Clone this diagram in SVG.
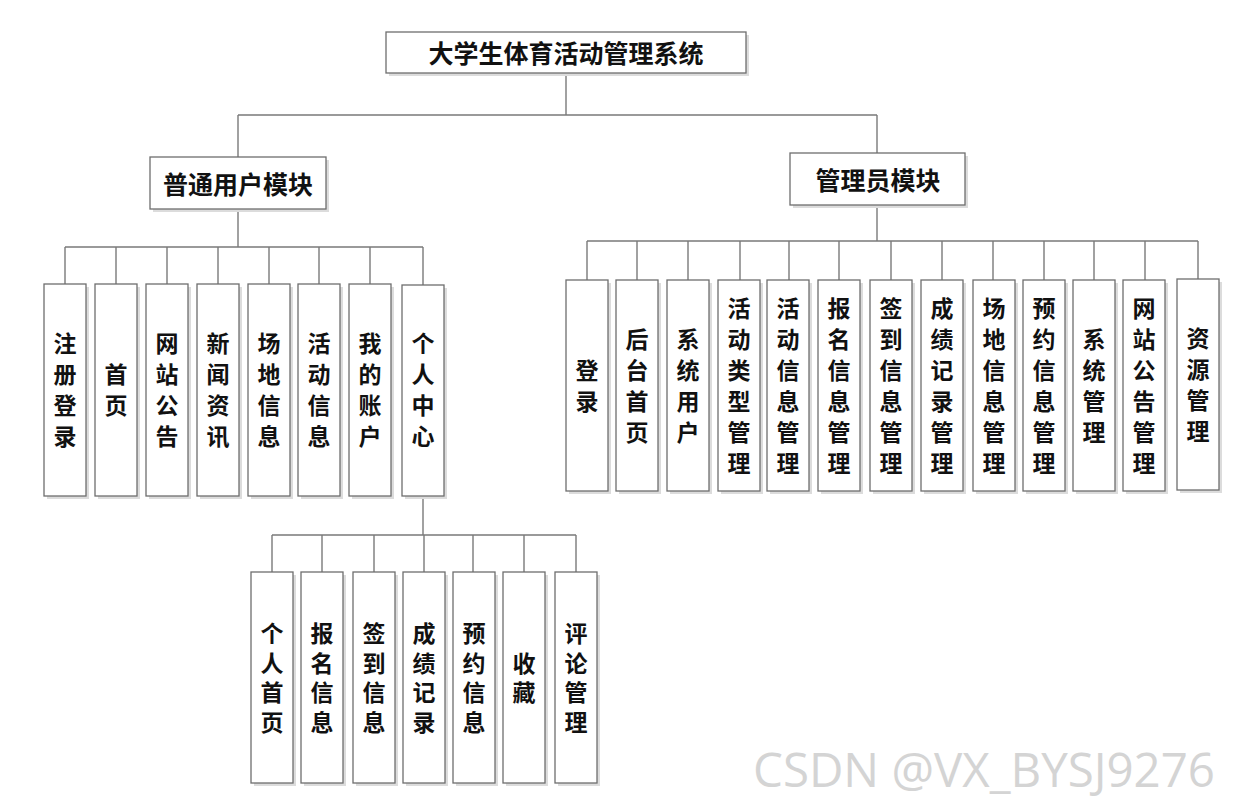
<svg xmlns="http://www.w3.org/2000/svg" width="1233" height="802" viewBox="0 0 1233 802">
<style>
.bg{fill:#ffffff}
.sh{fill:#dcdcdc}
.box{fill:#ffffff;stroke:#6e6e6e;stroke-width:1.3}
.ln{fill:none;stroke:#7a7a7a;stroke-width:1.4}
.t{font-family:"Noto Sans CJK SC","Noto Sans CJK JP",sans-serif;font-weight:bold;fill:#111111;text-anchor:middle;dominant-baseline:central}
.big{font-size:25px}
.leaf{font-size:23px;writing-mode:vertical-rl;letter-spacing:8px}
.low{letter-spacing:6.5px}
.wm{font-family:"Open Sans","Noto Sans",sans-serif;font-size:48px;fill:#d4d4d4}
</style>
<rect class="bg" x="0" y="0" width="1233" height="802"/>

<g id="connectors">
<path class="ln" d="M566 73V115M238 115H877M238 115V157M877 115V153"/>
<path class="ln" d="M238 209V247M65 247H423M65 247V284M116 247V284M167 247V284M218 247V284M269 247V284M319 247V284M370 247V284M423 247V285"/>
<path class="ln" d="M423 496V535M272 535H576M272 535V572M322 535V572M374 535V572M424 535V572M473 535V572M524 535V572M576 535V572"/>
<path class="ln" d="M877 205V241M587 241H1198M587 241V280M637 241V280M688 241V280M740 241V280M789 241V280M839 241V280M891 241V280M942 241V280M993 241V280M1044 241V280M1094 241V280M1145 241V280M1198 241V280"/>
</g>

<g id="root"><rect class="sh" x="389" y="35" width="360" height="41"/><rect class="box" x="386" y="32" width="360" height="41"/><text class="t big" x="566" y="52">大学生体育活动管理系统</text></g>
<g id="user"><rect class="sh" x="153" y="160" width="176" height="52"/><rect class="box" x="150" y="157" width="176" height="52"/><text class="t big" x="238" y="183">普通用户模块</text></g>
<g id="admin"><rect class="sh" x="793" y="156" width="175" height="52"/><rect class="box" x="790" y="153" width="175" height="52"/><text class="t big" x="878" y="179">管理员模块</text></g>

<g id="u1"><rect class="sh" x="47" y="287" width="42" height="212"/><rect class="box" x="44" y="284" width="42" height="212"/><text class="t leaf" x="65" y="394">注册登录</text></g>
<g id="u2"><rect class="sh" x="98" y="287" width="42" height="212"/><rect class="box" x="95" y="284" width="42" height="212"/><text class="t leaf" x="116" y="394">首页</text></g>
<g id="u3"><rect class="sh" x="149" y="287" width="42" height="212"/><rect class="box" x="146" y="284" width="42" height="212"/><text class="t leaf" x="167" y="394">网站公告</text></g>
<g id="u4"><rect class="sh" x="200" y="287" width="42" height="212"/><rect class="box" x="197" y="284" width="42" height="212"/><text class="t leaf" x="218" y="394">新闻资讯</text></g>
<g id="u5"><rect class="sh" x="251" y="287" width="42" height="212"/><rect class="box" x="248" y="284" width="42" height="212"/><text class="t leaf" x="269" y="394">场地信息</text></g>
<g id="u6"><rect class="sh" x="301" y="287" width="42" height="212"/><rect class="box" x="298" y="284" width="42" height="212"/><text class="t leaf" x="319" y="394">活动信息</text></g>
<g id="u7"><rect class="sh" x="352" y="287" width="42" height="212"/><rect class="box" x="349" y="284" width="42" height="212"/><text class="t leaf" x="370" y="394">我的账户</text></g>
<g id="u8"><rect class="sh" x="405" y="288" width="42" height="211"/><rect class="box" x="402" y="285" width="42" height="211"/><text class="t leaf" x="423" y="394">个人中心</text></g>

<g id="p1"><rect class="sh" x="254" y="575" width="42" height="211"/><rect class="box" x="251" y="572" width="42" height="211"/><text class="t leaf low" x="272" y="681">个人首页</text></g>
<g id="p2"><rect class="sh" x="304" y="575" width="42" height="211"/><rect class="box" x="301" y="572" width="42" height="211"/><text class="t leaf low" x="322" y="681">报名信息</text></g>
<g id="p3"><rect class="sh" x="356" y="575" width="42" height="211"/><rect class="box" x="353" y="572" width="42" height="211"/><text class="t leaf low" x="374" y="681">签到信息</text></g>
<g id="p4"><rect class="sh" x="406" y="575" width="42" height="211"/><rect class="box" x="403" y="572" width="42" height="211"/><text class="t leaf low" x="424" y="681">成绩记录</text></g>
<g id="p5"><rect class="sh" x="456" y="575" width="42" height="211"/><rect class="box" x="453" y="572" width="42" height="211"/><text class="t leaf low" x="474" y="681">预约信息</text></g>
<g id="p6"><rect class="sh" x="506" y="575" width="42" height="211"/><rect class="box" x="503" y="572" width="42" height="211"/><text class="t leaf low" x="524" y="681">收藏</text></g>
<g id="p7"><rect class="sh" x="558" y="575" width="42" height="211"/><rect class="box" x="555" y="572" width="42" height="211"/><text class="t leaf low" x="576" y="681">评论管理</text></g>

<g id="a1"><rect class="sh" x="569" y="283" width="42" height="211"/><rect class="box" x="566" y="280" width="42" height="211"/><text class="t leaf" x="587" y="390">登录</text></g>
<g id="a2"><rect class="sh" x="619" y="283" width="42" height="211"/><rect class="box" x="616" y="280" width="42" height="211"/><text class="t leaf" x="637" y="390">后台首页</text></g>
<g id="a3"><rect class="sh" x="670" y="283" width="42" height="211"/><rect class="box" x="667" y="280" width="42" height="211"/><text class="t leaf" x="688" y="390">系统用户</text></g>
<g id="a4"><rect class="sh" x="721" y="283" width="42" height="211"/><rect class="box" x="718" y="280" width="42" height="211"/><text class="t leaf" x="739" y="390">活动类型管理</text></g>
<g id="a5"><rect class="sh" x="770" y="283" width="42" height="211"/><rect class="box" x="767" y="280" width="42" height="211"/><text class="t leaf" x="788" y="390">活动信息管理</text></g>
<g id="a6"><rect class="sh" x="821" y="283" width="42" height="211"/><rect class="box" x="818" y="280" width="42" height="211"/><text class="t leaf" x="839" y="390">报名信息管理</text></g>
<g id="a7"><rect class="sh" x="873" y="283" width="42" height="211"/><rect class="box" x="870" y="280" width="42" height="211"/><text class="t leaf" x="891" y="390">签到信息管理</text></g>
<g id="a8"><rect class="sh" x="924" y="283" width="42" height="211"/><rect class="box" x="921" y="280" width="42" height="211"/><text class="t leaf" x="942" y="390">成绩记录管理</text></g>
<g id="a9"><rect class="sh" x="976" y="283" width="42" height="211"/><rect class="box" x="973" y="280" width="42" height="211"/><text class="t leaf" x="994" y="390">场地信息管理</text></g>
<g id="a10"><rect class="sh" x="1026" y="283" width="42" height="211"/><rect class="box" x="1023" y="280" width="42" height="211"/><text class="t leaf" x="1044" y="390">预约信息管理</text></g>
<g id="a11"><rect class="sh" x="1076" y="283" width="42" height="211"/><rect class="box" x="1073" y="280" width="42" height="211"/><text class="t leaf" x="1094" y="390">系统管理</text></g>
<g id="a12"><rect class="sh" x="1126" y="283" width="42" height="211"/><rect class="box" x="1123" y="280" width="42" height="211"/><text class="t leaf" x="1144" y="390">网站公告管理</text></g>
<g id="a13"><rect class="sh" x="1180" y="282" width="42" height="211"/><rect class="box" x="1177" y="279" width="42" height="211"/><text class="t leaf" x="1198" y="389">资源管理</text></g>

<text class="wm" x="753" y="787" textLength="462" lengthAdjust="spacingAndGlyphs">CSDN @VX_BYSJ9276</text>
</svg>
